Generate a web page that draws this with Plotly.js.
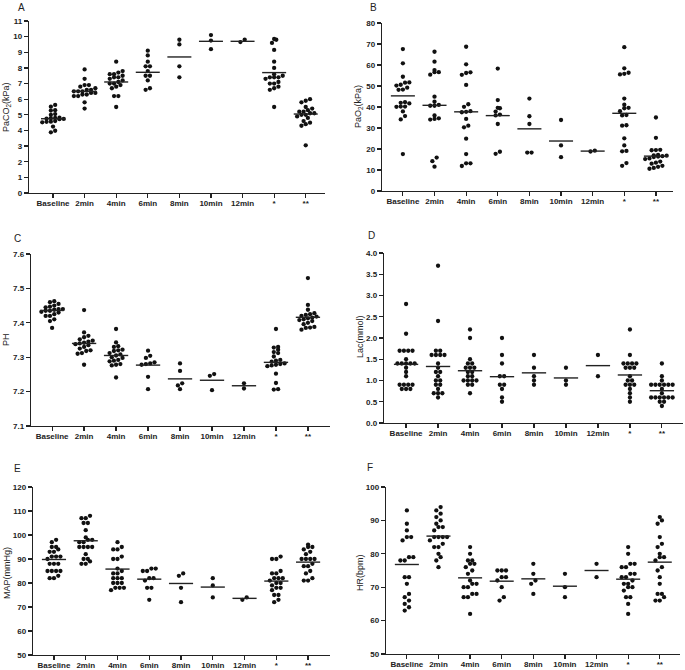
<!DOCTYPE html>
<html><head><meta charset="utf-8">
<script src="https://cdn.plot.ly/plotly-3.0.1.min.js"></script>
<style>html,body{margin:0;padding:0;background:#fff}#chart{width:685px;height:670px}</style>
</head><body><div id="chart"></div>
<script>
const categories = ['Baseline','2min','4min','6min','8min','10min','12min','*','**'];

const paco2 = [
 [5.63,5.52,5.3,5.27,5.05,5.0,4.82,4.8,4.78,4.76,4.74,4.72,4.6,4.56,4.55,4.52,4.25,3.98,3.88],
 [7.9,7.3,6.9,6.9,6.8,6.7,6.6,6.6,6.5,6.5,6.5,6.4,6.4,6.3,6.3,6.2,6.2,5.8,5.4],
 [8.4,7.8,7.7,7.6,7.6,7.5,7.4,7.4,7.3,7.2,7.1,7.0,7.0,6.9,6.8,6.7,6.2,6.2,5.5],
 [9.1,8.8,8.4,8.1,8.1,7.8,7.5,7.5,7.2,6.7,6.6],
 [9.8,9.5,8.1,7.4],
 [10.1,9.75,9.2],
 [9.8,9.65],
 [9.85,9.8,9.6,9.15,8.4,8.0,7.6,7.5,7.4,7.4,7.4,7.3,7.1,7.0,7.0,6.8,6.7,6.6,5.5],
 [6.0,5.9,5.8,5.5,5.4,5.3,5.2,5.2,5.1,5.1,5.0,5.0,4.9,4.8,4.6,4.5,4.4,4.3,3.05]
];
const paco2Mean = [4.75,6.5,7.1,7.72,8.7,9.7,9.7,7.7,5.05];

const pao2 = [
 [67.6,60.8,54.4,51.7,51.6,50.6,50.2,49.2,48.3,48.2,42.3,42.0,41.7,40.2,40.2,40.1,37.9,35.7,34.1,17.6],
 [66.3,61.6,57.6,56.6,56.6,55.4,44.9,42.5,41.0,40.6,40.6,36.0,34.6,34.3,34.0,15.9,14.2,11.6],
 [68.7,60.3,56.5,56.2,55.3,50.5,41.3,40.1,38.0,37.7,37.5,34.3,31.1,30.3,24.9,17.6,13.2,13.2,11.9],
 [58.3,43.3,39.6,39.4,37.8,36.4,36.0,31.9,18.7,17.7],
 [44.0,35.6,31.9,18.3,18.3],
 [33.8,21.7,16.1],
 [18.8,19.2],
 [68.5,58.4,56.3,55.8,55.5,44.0,41.1,39.6,39.4,38.0,36.2,36.0,31.3,31.1,25.1,21.7,19.1,18.9,13.3,12.0],
 [35.0,25.3,19.6,19.5,19.4,17.2,17.0,16.8,16.6,16.4,16.2,15.5,15.2,14.0,13.5,13.0,12.0,11.5,11.0,10.6]
];
const pao2Mean = [45.3,40.8,37.7,35.9,29.6,23.8,19.0,37.0,16.6];

const ph = [
 [7.463,7.46,7.455,7.45,7.447,7.445,7.44,7.44,7.438,7.435,7.435,7.432,7.43,7.425,7.42,7.42,7.41,7.405,7.385],
 [7.437,7.372,7.362,7.358,7.352,7.348,7.345,7.342,7.34,7.338,7.335,7.33,7.325,7.32,7.318,7.312,7.31,7.278],
 [7.382,7.343,7.332,7.33,7.322,7.32,7.318,7.312,7.308,7.305,7.3,7.298,7.292,7.29,7.288,7.28,7.278,7.276,7.241],
 [7.319,7.304,7.298,7.285,7.282,7.28,7.278,7.243,7.207],
 [7.282,7.26,7.224,7.218,7.207],
 [7.251,7.246,7.204],
 [7.224,7.209],
 [7.382,7.33,7.328,7.322,7.315,7.312,7.302,7.292,7.29,7.287,7.282,7.28,7.278,7.276,7.274,7.252,7.225,7.207,7.206],
 [7.53,7.452,7.438,7.428,7.425,7.423,7.42,7.418,7.415,7.413,7.41,7.408,7.405,7.4,7.396,7.388,7.386,7.385,7.38]
];
const phMean = [7.436,7.34,7.305,7.277,7.237,7.233,7.217,7.285,7.416];

const lac = [
 [2.8,2.1,1.7,1.7,1.7,1.7,1.5,1.4,1.4,1.4,1.4,1.4,1.3,1.2,1.1,0.9,0.9,0.9,0.9,0.8,0.8,0.8],
 [3.7,2.4,1.7,1.7,1.6,1.6,1.6,1.6,1.4,1.3,1.2,1.2,1.1,1.0,1.0,0.9,0.9,0.8,0.7,0.7,0.7,0.6],
 [2.2,2.0,1.5,1.4,1.4,1.3,1.3,1.3,1.2,1.2,1.1,1.1,1.0,1.0,1.0,1.0,0.9,0.9,0.7],
 [2.0,1.6,1.4,1.1,1.1,0.9,0.9,0.8,0.6,0.5],
 [1.6,1.3,1.1,1.0,0.9],
 [1.3,1.0,0.9],
 [1.6,1.1],
 [2.2,1.6,1.4,1.4,1.4,1.4,1.3,1.3,1.3,1.1,1.0,1.0,0.9,0.9,0.9,0.8,0.7,0.6,0.5],
 [1.4,1.1,1.0,0.9,0.9,0.9,0.9,0.9,0.9,0.8,0.7,0.6,0.6,0.6,0.6,0.6,0.6,0.5,0.5,0.4]
];
const lacMean = [1.38,1.33,1.23,1.09,1.18,1.06,1.35,1.13,0.76];

const map = [
 [98,97,95,95,94,93,93,91,91,91,90,88,88,88,85,85,85,85,83,82,82],
 [108,107,107,105,105,102,99,98,98,97,97,95,95,95,95,92,90,90,89,88,88],
 [97,95,94,94,91,90,90,86,85,84,84,82,82,82,80,80,80,78,78,78,77],
 [86,86,85,85,82,82,81,78,78,73],
 [84,83,78,72],
 [82,79,74],
 [74,73],
 [91,90,90,85,84,84,82,82,82,81,80,80,79,78,78,77,75,75,73,72],
 [96,95,95,94,93,92,90,90,90,90,88,87,87,85,84,82,81,81]
];
const mapMean = [89.8,97.6,85.8,81.6,79.8,78.3,73.6,80.8,88.7];

const hr = [
 [93,89,87,85,85,84,79,79,78,78,73,73,71,68,67,66,65,64,63],
 [94,93,92,91,90,89,88,88,87,85,85,85,85,84,83,82,82,80,79,78,76],
 [82,80,78,78,77,77,76,75,74,72,71,71,70,70,68,68,67,67,62],
 [75,75,75,73,73,72,70,67,66],
 [77,74,72,71,68],
 [74,70,67],
 [77,73],
 [82,80,77,77,76,76,74,74,73,73,72,71,71,70,70,69,67,67,65,62],
 [91,90,89,85,83,82,80,79,79,78,76,75,73,71,68,68,67,66,66]
];
const hrMean = [76.8,85.3,72.8,71.8,72.5,70.3,75.0,72.4,77.5];

const W = 685, H = 670;
const FONT = 'Liberation Sans, Arial, sans-serif';
const panels = [
 {data: paco2, mean: paco2Mean, box: [29,325,21,193], yr: [0,11], dtick: 1, xr: [-0.76,8.61], fmt: '', title: 'PaCO<sub>2</sub>(kPa)', label: 'A', lp: [21,7], tp: [6,107]},
 {data: pao2, mean: pao2Mean, box: [382,673,23,191], yr: [0,80], dtick: 10, xr: [-0.66,8.54], fmt: '', title: 'PaO<sub>2</sub>(kPa)', label: 'B', lp: [374,7], tp: [358,107]},
 {data: ph, mean: phMean, box: [31,330,254,426], yr: [7.1,7.6], dtick: 0.1, xr: [-0.66,8.69], fmt: '.1f', title: 'PH', label: 'C', lp: [17,238], tp: [6,340]},
 {data: lac, mean: lacMean, box: [384,683,253,423], yr: [0,4], dtick: 0.5, xr: [-0.69,8.66], fmt: '.1f', title: 'Lac(mmol)', label: 'D', lp: [371,235], tp: [360,337]},
 {data: map, mean: mapMean, box: [33,330,487,655], yr: [50,120], dtick: 10, xr: [-0.66,8.69], fmt: '', title: 'MAP(mmHg)', label: 'E', lp: [17,468], tp: [7,573]},
 {data: hr, mean: hrMean, box: [386,680,487,654], yr: [50,100], dtick: 10, xr: [-0.66,8.64], fmt: '', title: 'HR(bpm)', label: 'F', lp: [370,467], tp: [360,573]}
];

const traces = [];
const layout = {
  width: W, height: H, margin: {l:0,r:0,t:0,b:0}, showlegend: false,
  paper_bgcolor: '#fff', plot_bgcolor: '#fff', font: {family: FONT, color: '#222'},
  annotations: []
};
const DOT = 4.3; // px spacing between dots

panels.forEach((p, k) => {
  const n = k === 0 ? '' : String(k+1);
  const [l, r, t, b] = p.box;
  const pxY = (b - t) / (p.yr[1] - p.yr[0]);
  const pxX = (r - l) / (p.xr[1] - p.xr[0]);
  const xs = [], ys = [];
  p.data.forEach((vals, gi) => {
    const sorted = vals.slice().sort((a, c) => a - c);
    let rows = [];
    let cur = [];
    sorted.forEach(v => {
      if (cur.length && (v - cur[0]) * pxY >= DOT * 0.85) { rows.push(cur); cur = []; }
      cur.push(v);
    });
    if (cur.length) rows.push(cur);
    rows.forEach(row => {
      row.forEach((v, i) => {
        xs.push(gi + (i - (row.length - 1) / 2) * DOT / pxX);
        ys.push(v);
      });
    });
  });
  traces.push({type: 'scatter', mode: 'markers', x: xs, y: ys, xaxis: 'x'+n, yaxis: 'y'+n,
    marker: {size: 4.3, color: '#111'}, hoverinfo: 'skip'});
  const mx = [], my = [];
  p.mean.forEach((m, gi) => { mx.push(gi - 0.38, gi + 0.38, null); my.push(m, m, null); });
  traces.push({type: 'scatter', mode: 'lines', x: mx, y: my, xaxis: 'x'+n, yaxis: 'y'+n,
    line: {color: '#222', width: 1.4}, hoverinfo: 'skip'});

  layout['xaxis'+n] = {
    domain: [l / W, r / W], range: p.xr, anchor: 'y'+n,
    tickmode: 'array', tickvals: categories.map((c, i) => i), ticktext: categories,
    showgrid: false, zeroline: false, showline: true, linecolor: '#222', linewidth: 1.3,
    ticks: 'outside', ticklen: 4, tickwidth: 1.2, tickcolor: '#222', ticklabelstandoff: -2,
    tickfont: {family: FONT, size: 8, color: '#222', weight: 'bold'}, fixedrange: true
  };
  layout['yaxis'+n] = {
    domain: [1 - b / H, 1 - t / H], range: p.yr, anchor: 'x'+n,
    tick0: p.yr[0], dtick: p.dtick, tickformat: p.fmt,
    showgrid: false, zeroline: false, showline: true, linecolor: '#222', linewidth: 1.3,
    ticks: 'outside', ticklen: 4, tickwidth: 1.2, tickcolor: '#222',
    tickfont: {family: FONT, size: 8, color: '#222', weight: 'bold'}, fixedrange: true
  };
  layout.annotations.push({xref: 'paper', yref: 'paper', x: p.lp[0] / W, y: 1 - p.lp[1] / H,
    text: p.label, showarrow: false, xanchor: 'center', yanchor: 'middle',
    font: {family: FONT, size: 10, color: '#222'}});
  layout.annotations.push({xref: 'paper', yref: 'paper', x: p.tp[0] / W, y: 1 - p.tp[1] / H,
    text: p.title, showarrow: false, textangle: -90, xanchor: 'center', yanchor: 'middle',
    font: {family: FONT, size: 9, color: '#222'}});
});

Plotly.newPlot('chart', traces, layout, {displayModeBar: false, staticPlot: true});
</script>
</body></html>
